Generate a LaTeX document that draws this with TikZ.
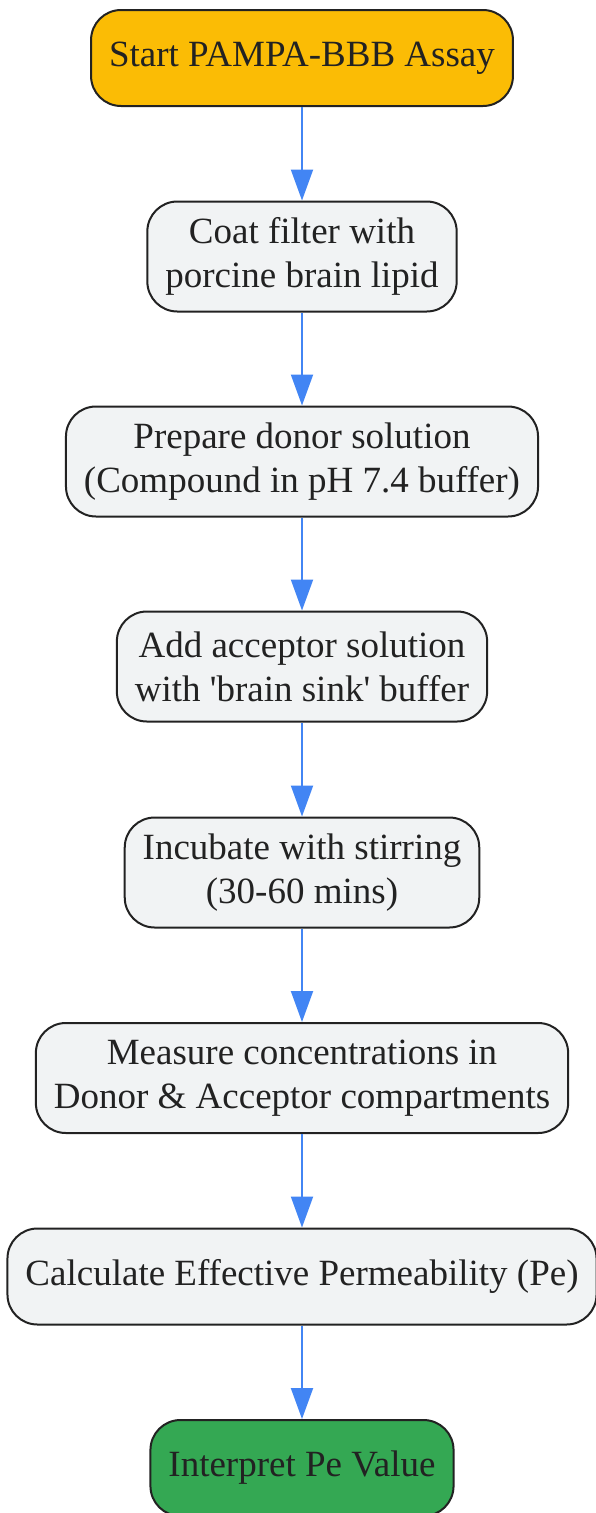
\documentclass[tikz,border=0pt]{standalone}
\usepackage{fontspec}
\setmainfont{Liberation Serif}
\usepackage{tikz}
\usetikzlibrary{positioning,arrows.meta}

\definecolor{startfill}{HTML}{FBBC05}
\definecolor{endfill}{HTML}{34A853}
\definecolor{stepfill}{HTML}{F1F3F4}
\definecolor{edgeline}{HTML}{222222}
\definecolor{flowblue}{HTML}{4285F4}

\tikzset{
	stepbox/.style={shape=rectangle,rounded corners=30pt,draw=edgeline,line width=2pt,
		fill=stepfill,text=edgeline,align=center,inner xsep=18pt,minimum height=96pt,
		font=\fontsize{37}{44}\selectfont},
	twoline/.style={minimum height=110pt},
	flow/.style={color=flowblue,line width=2pt,-{Triangle[length=31pt,width=22pt]}}
}

\begin{document}
\begin{tikzpicture}[x=1pt,y=-1pt]
	
	\useasboundingbox (0,0) rectangle (595,1513);
	
	\node[stepbox,fill=startfill] (0) at (302,58) {Start PAMPA-BBB Assay};
	\node[stepbox,twoline] (1) at (302,256.5) {Coat filter with\\porcine brain lipid};
	\node[stepbox,twoline] (2) at (302,461.5) {Prepare donor solution\\(Compound in pH 7.4 buffer)};
	\node[stepbox,twoline] (3) at (302,666.5) {Add acceptor solution\\with \textquotesingle brain sink\textquotesingle{} buffer};
	\node[stepbox,twoline] (4) at (302,872.5) {Incubate with stirring\\(30-60 mins)};
	\node[stepbox,twoline] (5) at (302,1078) {Measure concentrations in\\Donor \& Acceptor compartments};
	\node[stepbox] (6) at (302,1276.5) {Calculate Effective Permeability (Pe)};
	\node[stepbox,fill=endfill] (7) at (302,1468) {Interpret Pe Value};
	
	
	
	\path [flow] (0) edge (1);
	\path [flow] (1) edge (2);
	\path [flow] (2) edge (3);
	\path [flow] (3) edge (4);
	\path [flow] (4) edge (5);
	\path [flow] (5) edge (6);
	\path [flow] (6) edge (7);
	
	
\end{tikzpicture}
\end{document}
